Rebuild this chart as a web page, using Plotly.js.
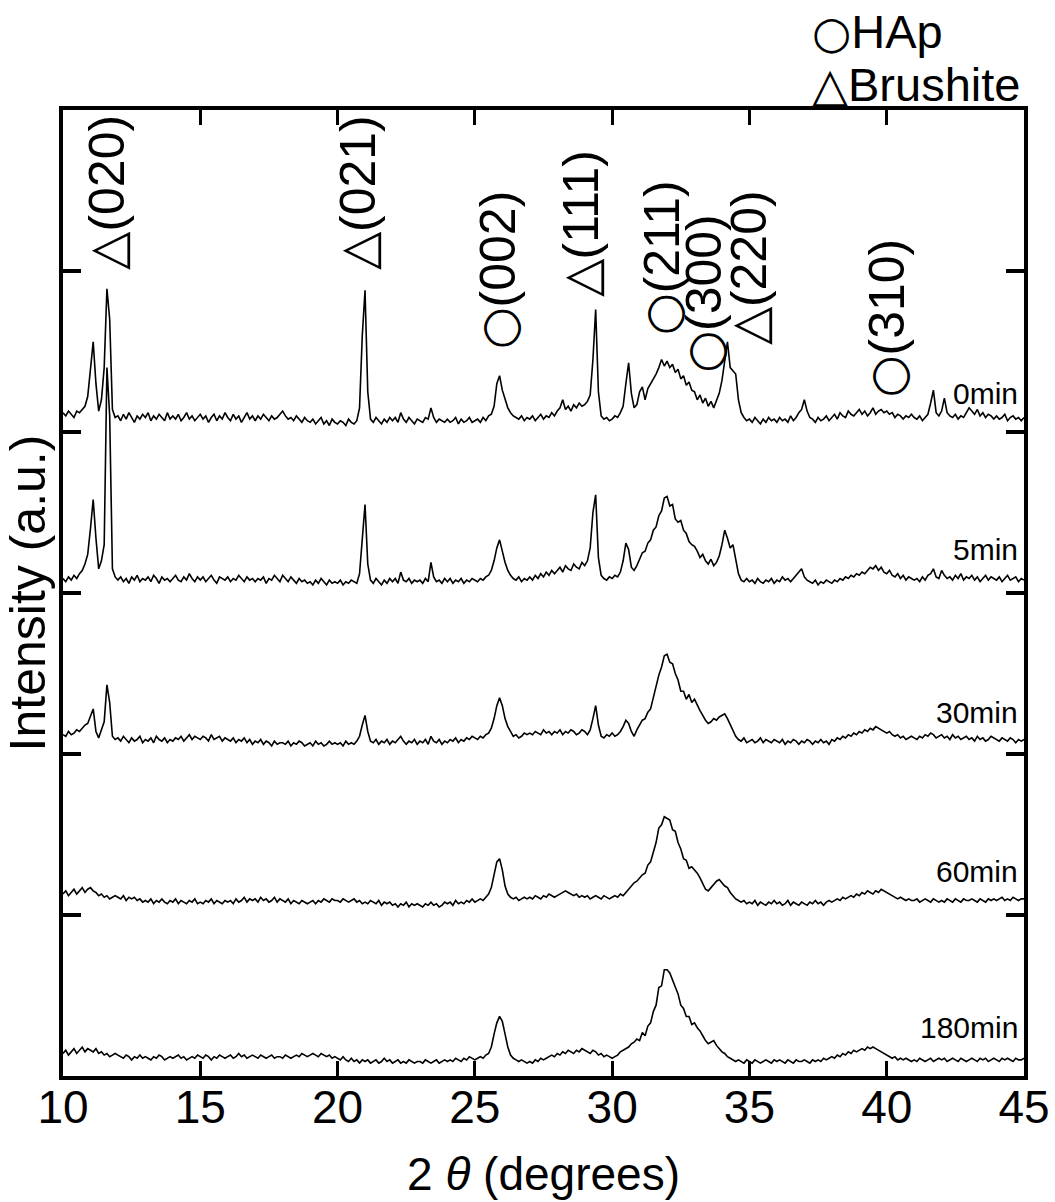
<!DOCTYPE html>
<html><head><meta charset="utf-8">
<script src="https://cdn.plot.ly/plotly-3.0.1.min.js"></script>
<style>html,body{margin:0;padding:0;background:#fff}#chart{width:1055px;height:1202px}</style>
</head><body><div id="chart"></div>
<script>
// 2-theta grid (degrees)
const twoTheta = [
10.0,10.1,10.2,10.3,10.4,10.5,10.6,10.7,10.8,10.9,
11.0,11.1,11.2,11.3,11.4,11.5,11.6,11.7,11.8,11.9,
12.0,12.1,12.2,12.3,12.4,12.5,12.6,12.7,12.8,12.9,
13.0,13.1,13.2,13.3,13.4,13.5,13.6,13.7,13.8,13.9,
14.0,14.1,14.2,14.3,14.4,14.5,14.6,14.7,14.8,14.9,
15.0,15.1,15.2,15.3,15.4,15.5,15.6,15.7,15.8,15.9,
16.0,16.1,16.2,16.3,16.4,16.5,16.6,16.7,16.8,16.9,
17.0,17.1,17.2,17.3,17.4,17.5,17.6,17.7,17.8,17.9,
18.0,18.1,18.2,18.3,18.4,18.5,18.6,18.7,18.8,18.9,
19.0,19.1,19.2,19.3,19.4,19.5,19.6,19.7,19.8,19.9,
20.0,20.1,20.2,20.3,20.4,20.5,20.6,20.7,20.8,20.9,
21.0,21.1,21.2,21.3,21.4,21.5,21.6,21.7,21.8,21.9,
22.0,22.1,22.2,22.3,22.4,22.5,22.6,22.7,22.8,22.9,
23.0,23.1,23.2,23.3,23.4,23.5,23.6,23.7,23.8,23.9,
24.0,24.1,24.2,24.3,24.4,24.5,24.6,24.7,24.8,24.9,
25.0,25.1,25.2,25.3,25.4,25.5,25.6,25.7,25.8,25.9,
26.0,26.1,26.2,26.3,26.4,26.5,26.6,26.7,26.8,26.9,
27.0,27.1,27.2,27.3,27.4,27.5,27.6,27.7,27.8,27.9,
28.0,28.1,28.2,28.3,28.4,28.5,28.6,28.7,28.8,28.9,
29.0,29.1,29.2,29.3,29.4,29.5,29.6,29.7,29.8,29.9,
30.0,30.1,30.2,30.3,30.4,30.5,30.6,30.7,30.8,30.9,
31.0,31.1,31.2,31.3,31.4,31.5,31.6,31.7,31.8,31.9,
32.0,32.1,32.2,32.3,32.4,32.5,32.6,32.7,32.8,32.9,
33.0,33.1,33.2,33.3,33.4,33.5,33.6,33.7,33.8,33.9,
34.0,34.1,34.2,34.3,34.4,34.5,34.6,34.7,34.8,34.9,
35.0,35.1,35.2,35.3,35.4,35.5,35.6,35.7,35.8,35.9,
36.0,36.1,36.2,36.3,36.4,36.5,36.6,36.7,36.8,36.9,
37.0,37.1,37.2,37.3,37.4,37.5,37.6,37.7,37.8,37.9,
38.0,38.1,38.2,38.3,38.4,38.5,38.6,38.7,38.8,38.9,
39.0,39.1,39.2,39.3,39.4,39.5,39.6,39.7,39.8,39.9,
40.0,40.1,40.2,40.3,40.4,40.5,40.6,40.7,40.8,40.9,
41.0,41.1,41.2,41.3,41.4,41.5,41.6,41.7,41.8,41.9,
42.0,42.1,42.2,42.3,42.4,42.5,42.6,42.7,42.8,42.9,
43.0,43.1,43.2,43.3,43.4,43.5,43.6,43.7,43.8,43.9,
44.0,44.1,44.2,44.3,44.4,44.5,44.6,44.7,44.8,44.9,
45.0];

// Intensities (a.u.), one array per soaking time
const int0min = [
12,10,13,11,9,13,12,14,16,22,
40,56,30,13,20,40,89,70,14,9,
10,7,11,8,12,9,6,10,8,11,
9,12,7,10,8,11,9,7,12,8,
10,8,11,7,9,12,8,10,7,9,
11,8,10,6,9,11,7,10,8,12,
9,7,11,8,10,6,9,12,8,10,
7,10,8,11,9,7,10,8,9,11,
13,10,8,9,7,10,8,6,9,7,
6,8,5,7,9,5,7,4,8,6,
5,7,6,4,8,6,5,7,15,60,
88,25,8,6,9,7,5,8,6,9,
7,9,6,12,8,6,9,7,5,8,
7,6,9,8,15,9,6,8,7,6,
8,6,7,9,5,8,6,7,9,6,
7,8,6,9,7,10,11,16,30,35,
26,20,15,12,10,9,8,10,7,9,
8,10,7,9,11,8,10,9,12,10,
13,15,20,14,16,13,17,15,18,16,
17,19,23,45,76,25,10,8,9,7,
8,10,9,12,16,30,43,24,15,17,
25,28,20,27,30,33,36,40,45,41,
44,40,42,37,39,33,35,29,31,26,
25,20,23,18,21,16,19,15,20,24,
32,45,56,40,38,36,20,12,9,7,
8,6,9,7,5,8,6,9,7,8,
6,9,7,8,6,10,7,9,12,14,
20,13,9,8,6,9,7,8,10,7,
9,11,8,12,10,9,13,11,10,12,
14,11,13,10,12,15,11,13,14,12,
13,11,12,9,11,10,8,10,9,11,
9,8,10,7,9,11,18,26,12,10,
13,21,12,10,9,11,8,10,9,12,
15,13,11,14,10,12,9,11,10,8,
10,8,9,11,7,9,10,8,9,7,
9];

const int5min = [
9,7,10,8,11,9,12,14,18,24,
40,58,34,15,20,30,140,110,15,10,
8,10,7,9,6,10,8,11,7,9,
8,10,7,11,9,6,10,8,9,7,
9,11,8,7,10,8,12,9,7,10,
8,10,7,9,11,8,6,10,9,8,
10,7,9,8,11,9,7,10,8,9,
7,9,8,10,6,9,8,11,9,7,
11,9,7,10,8,6,9,7,8,6,
7,5,8,6,9,7,5,8,6,7,
6,8,5,7,6,8,7,6,12,35,
55,18,8,6,9,7,5,8,6,9,
7,9,6,13,8,7,9,6,8,7,
8,6,9,7,19,10,7,8,6,9,
7,9,6,8,7,9,6,8,7,9,
8,7,9,8,10,11,14,20,28,33,
26,19,14,11,9,8,10,7,9,8,
10,8,11,9,12,10,13,11,14,12,
14,16,13,17,15,14,18,16,15,19,
17,20,28,50,61,22,11,9,8,10,
9,11,10,13,20,31,27,16,14,17,
21,25,26,31,33,39,41,48,51,59,
60,54,55,46,44,45,39,37,32,30,
29,26,22,24,20,18,21,17,19,23,
30,39,34,28,30,22,12,8,7,9,
7,8,6,9,7,6,8,7,9,6,
8,7,10,8,9,7,9,11,13,15,
10,8,7,6,8,5,7,6,8,7,
6,8,7,9,8,10,9,11,10,12,
11,13,12,14,16,15,17,14,16,13,
12,14,11,10,12,9,11,8,10,9,
8,9,7,10,8,11,12,15,10,9,
14,11,9,10,8,11,9,12,8,10,
9,11,8,10,7,9,11,8,10,9,
8,10,7,9,11,8,9,10,7,9,
8];

const int30min = [
12,11,14,12,13,15,14,16,18,19,
23,28,14,10,15,20,43,32,11,9,
10,8,11,9,7,10,8,9,11,7,
9,8,10,7,11,9,8,10,7,9,
8,10,9,11,8,10,12,9,11,10,
9,11,10,8,12,9,10,11,8,10,
9,8,10,7,9,8,10,7,9,6,
8,7,9,6,8,7,5,8,6,7,
7,6,8,5,7,6,8,7,5,6,
7,5,8,6,7,5,6,8,6,7,
6,7,5,8,6,7,6,8,11,18,
24,14,8,7,9,6,8,7,9,6,
8,7,9,11,8,6,8,7,9,6,
8,7,9,6,11,8,7,9,6,8,
7,9,8,10,7,9,8,10,9,11,
10,9,11,10,12,13,16,22,30,35,
30,22,17,14,11,12,10,11,13,12,
13,12,14,13,12,15,13,14,12,14,
13,15,12,14,13,15,14,12,13,15,
14,12,15,22,30,18,11,10,12,11,
13,11,12,14,17,21,19,14,11,15,
18,21,22,26,28,35,41,49,54,61,
62,57,56,50,46,39,39,34,37,32,
34,30,27,24,21,19,20,22,21,23,
24,25,22,18,14,11,9,8,10,7,
8,9,7,8,10,7,9,8,7,9,
8,7,9,6,8,7,9,8,6,8,
7,9,8,6,8,7,9,7,8,6,
9,8,10,9,11,10,12,11,13,12,
14,13,15,14,16,15,17,16,15,14,
13,14,12,11,12,10,11,9,10,11,
10,9,11,10,12,11,13,12,10,11,
12,10,11,9,12,10,11,9,10,11,
9,10,8,11,9,10,8,9,11,10,
9,8,10,9,8,10,9,7,9,8,
9];

const int60min = [
13,15,12,14,16,13,15,17,14,16,
17,15,14,12,13,11,12,10,11,12,
11,10,12,9,11,10,11,9,10,8,
9,8,10,7,9,8,10,8,7,9,
8,10,7,9,8,7,9,8,10,7,
8,7,9,8,10,7,9,8,7,9,
8,9,7,10,8,9,11,8,10,9,
10,8,11,9,10,8,9,11,8,10,
9,8,10,7,9,8,7,9,8,7,
8,9,7,9,8,10,9,8,10,9,
9,8,10,9,8,9,10,8,9,7,
8,7,9,8,7,9,6,8,7,8,
6,7,5,7,6,8,5,7,6,7,
6,5,7,6,8,6,7,5,6,8,
7,8,6,9,7,8,7,9,8,10,
8,9,10,9,11,13,17,25,33,35,
28,18,13,11,10,11,9,10,11,10,
11,10,12,11,10,12,11,13,12,11,
12,13,14,15,14,13,12,13,11,12,
11,12,10,11,12,11,10,12,11,10,
11,12,11,13,12,14,16,18,20,21,
23,25,26,31,33,39,45,54,56,61,
60,59,53,52,45,41,35,34,29,30,
28,26,23,19,16,15,17,19,21,22,
20,18,17,14,12,10,9,8,9,7,
8,7,9,6,8,7,6,8,7,9,
7,8,6,7,9,6,8,7,6,8,
7,6,8,7,9,7,8,6,8,9,
8,9,10,9,11,10,11,12,11,13,
12,14,13,15,14,13,15,14,16,15,
14,13,12,11,10,11,10,9,10,9,
9,10,8,9,10,9,8,10,9,8,
9,8,10,9,8,10,9,8,10,9,
9,10,9,8,10,9,8,10,9,10,
9,10,11,9,10,9,11,10,9,10,
10];

const int180min = [
14,16,13,15,17,14,16,18,15,17,
16,15,17,14,15,13,14,12,13,14,
13,12,11,13,12,10,12,11,13,11,
12,11,10,12,11,13,12,10,11,12,
11,12,13,11,12,10,11,12,11,13,
12,11,13,12,10,12,11,13,12,11,
12,13,11,12,14,12,13,11,12,13,
12,11,13,12,11,12,13,11,12,12,
11,13,12,11,12,13,12,14,13,12,
13,14,13,12,14,13,12,13,11,12,
11,10,12,10,9,11,9,10,8,10,
9,10,8,9,10,8,9,11,9,10,
8,9,10,8,9,8,10,9,8,9,
9,8,10,9,8,9,10,8,9,10,
9,10,9,11,10,9,11,10,12,11,
10,11,12,11,13,14,18,26,33,37,
34,26,18,13,11,10,9,10,9,8,
9,8,10,9,11,10,11,12,13,12,
14,13,15,14,16,15,14,16,15,17,
16,15,14,16,15,13,14,12,13,12,
11,12,13,15,16,17,18,20,21,23,
22,27,25,31,33,40,44,55,56,66,
66,64,60,55,51,44,42,37,37,32,
33,30,28,25,22,20,21,22,19,17,
15,14,12,11,10,9,10,9,8,10,
9,8,10,9,8,9,10,9,8,10,
9,10,9,8,10,9,8,10,9,9,
10,9,8,10,9,10,9,11,10,11,
12,11,13,12,14,13,15,14,16,15,
16,17,16,18,17,18,17,16,15,14,
13,12,11,12,10,11,10,11,10,9,
10,9,11,10,9,10,11,9,10,11,
10,11,9,10,11,10,9,11,10,9,
10,11,10,9,11,10,11,9,10,11,
10,9,11,10,11,10,9,11,10,10,
11];

const sampleLabels = ['0min', '5min', '30min', '60min', '180min'];
const peakPhase = ['B', 'B', 'H', 'B', 'H', 'H', 'B', 'H'];   // H = HAp, B = Brushite
const peakHkl = ['(020)', '(021)', '(002)', '(111)', '(211)', '(300)', '(220)', '(310)'];
const phaseNames = {H: 'HAp', B: 'Brushite'};
const phaseSymbols = {H: '\u25CB', B: '\u25B3'};

// ---- layout / presentation ----
const series = [int0min, int5min, int30min, int60min, int180min];
const stackOffset = [400, 300, 200, 100, 0];
const labelY = [424, 327, 226, 127, 30];
const peakLabelPos = [[11.62, 549], [20.74, 549], [25.84, 501], [28.87, 529], [31.82, 508], [33.32, 486], [34.96, 502], [40.0, 471]];

const FONT = 'Liberation Sans, Arial, Helvetica, sans-serif';
function sym(p, size) {
  if (p === 'H') return '<span style="font-family:DejaVu Sans;font-size:' + size + 'px">' + phaseSymbols[p] + '</span>';
  return phaseSymbols[p];
}

const traces = series.map((vals, i) => ({
  x: twoTheta,
  y: vals.map(v => v + stackOffset[i]),
  type: 'scatter',
  mode: 'lines',
  name: sampleLabels[i],
  line: {color: '#000', width: 1.6},
  showlegend: false,
  hoverinfo: 'skip'
}));

const annotations = [];
sampleLabels.forEach((t, i) => annotations.push({
  x: 44.85, y: labelY[i], xref: 'x', yref: 'y', text: t, showarrow: false,
  xanchor: 'right', yanchor: 'middle', font: {family: FONT, size: 30, color: '#000'}
}));
peakHkl.forEach((t, i) => annotations.push({
  x: peakLabelPos[i][0], y: peakLabelPos[i][1], xref: 'x', yref: 'y',
  text: sym(peakPhase[i], 48) + t, showarrow: false,
  textangle: -90, xanchor: 'center', yanchor: 'middle', font: {family: FONT, size: 50, color: '#000'}
}));
annotations.push({x: 0.777, y: 1.081, xref: 'paper', yref: 'paper', text: sym('H', 45) + phaseNames.H, showarrow: false,
  xanchor: 'left', yanchor: 'middle', font: {family: FONT, size: 47, color: '#000'}});
annotations.push({x: 0.777, y: 1.026, xref: 'paper', yref: 'paper', text: sym('B', 47) + phaseNames.B, showarrow: false,
  xanchor: 'left', yanchor: 'middle', font: {family: FONT, size: 47, color: '#000'}});

const layout = {
  width: 1055, height: 1202,
  margin: {l: 63, r: 31, t: 110, b: 126},
  paper_bgcolor: '#fff', plot_bgcolor: '#fff',
  font: {family: FONT, color: '#000'},
  showlegend: false,
  xaxis: {
    range: [10, 45], tickmode: 'linear', tick0: 10, dtick: 5,
    ticks: 'inside', ticklen: 15, tickwidth: 3, tickcolor: '#000',
    showline: true, linewidth: 4, linecolor: '#000', mirror: 'ticks',
    showgrid: false, zeroline: false,
    tickfont: {family: FONT, size: 46, color: '#000'},
    ticklabelstandoff: -12,
    title: {text: '2 <i>\u03B8</i> (degrees)', font: {family: FONT, size: 46, color: '#000'}, standoff: 27}
  },
  yaxis: {
    range: [0, 600], tickmode: 'array', tickvals: [100, 200, 300, 400, 500],
    ticks: 'inside', ticklen: 18, tickwidth: 4, tickcolor: '#000',
    showticklabels: false,
    showline: true, linewidth: 4, linecolor: '#000', mirror: 'ticks',
    showgrid: false, zeroline: false,
    title: {text: 'Intensity (a.u.)', font: {family: FONT, size: 50, color: '#000'}, standoff: 2}
  },
  annotations: annotations
};

Plotly.newPlot('chart', traces, layout, {displayModeBar: false, staticPlot: true});
</script></body></html>
